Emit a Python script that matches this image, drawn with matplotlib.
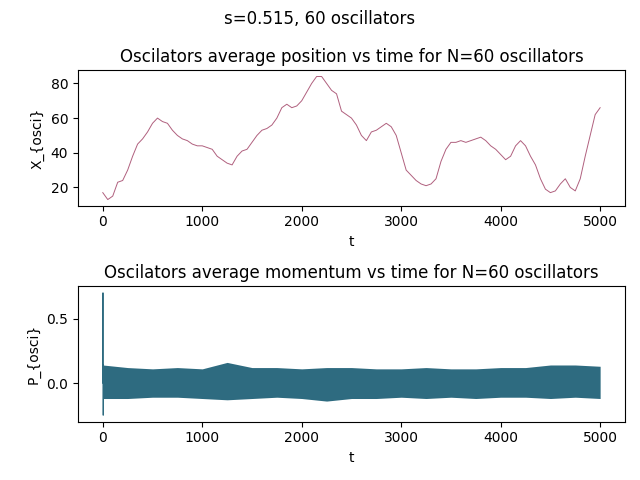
import numpy as np
import matplotlib.pyplot as plt

# average position, read every 50 time steps
t_pos = np.arange(0, 5001, 50)
x_pos = [17, 13, 15, 23, 24, 30, 38, 45, 48, 52, 57, 60, 58, 57, 53, 50, 48, 47, 45, 44,
         44, 43, 42, 38, 36, 34, 33, 38, 41, 42, 46, 50, 53, 54, 56, 60, 66, 68, 66, 67,
         70, 75, 80, 84, 84, 80, 76, 74, 64, 62, 60, 56, 50, 47, 52, 53, 55, 57, 55, 50,
         40, 30, 27, 24, 22, 21, 22, 25, 35, 42, 46, 46, 47, 46, 47, 48, 49, 47, 44, 42,
         39, 36, 38, 44, 47, 44, 38, 33, 25, 19, 17, 18, 22, 25, 20, 18, 25, 38, 50, 62, 66]

# momentum: initial transient, then noise band envelope every 250 steps
t_spike = [0, 2, 4, 6, 8, 12]
p_spike = [0.0, 0.7, -0.25, 0.14, -0.12, 0.05]
t_band = np.arange(0, 5001, 250)
p_upper = [0.14, 0.12, 0.11, 0.12, 0.11, 0.16, 0.12, 0.12, 0.11, 0.12, 0.12,
           0.11, 0.11, 0.12, 0.11, 0.11, 0.12, 0.12, 0.14, 0.14, 0.13]
p_lower = [-0.12, -0.12, -0.11, -0.11, -0.12, -0.13, -0.12, -0.11, -0.12, -0.14, -0.12,
           -0.12, -0.11, -0.12, -0.11, -0.12, -0.11, -0.11, -0.12, -0.11, -0.12]

fig, (ax1, ax2) = plt.subplots(2, 1, figsize=(6.4, 4.8))
fig.suptitle('s=0.515, 60 oscillators')

ax1.plot(t_pos, x_pos, color='#b0607e', lw=0.7)
ax1.set_title('Oscilators average position vs time for N=60 oscillators')
ax1.set_xlabel('t')
ax1.set_ylabel('X_{osci}')
ax1.set_xlim(-250, 5250)

ax2.fill_between(t_band, p_lower, p_upper, color='#2e6b80', lw=0)
ax2.plot(t_spike, p_spike, color='#2e6b80', lw=0.7)
ax2.set_title('Oscilators average momentum vs time for N=60 oscillators')
ax2.set_xlabel('t')
ax2.set_ylabel('P_{osci}')
ax2.set_xlim(-250, 5250)
ax2.set_ylim(-0.30, 0.75)

plt.tight_layout()
plt.savefig('out.png', dpi=100)
